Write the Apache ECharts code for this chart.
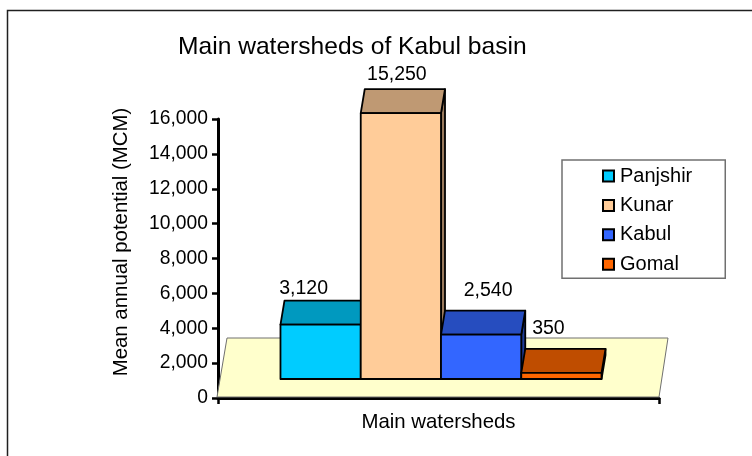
<!DOCTYPE html>
<html>
<head>
<meta charset="utf-8">
<style>
  html, body { margin: 0; padding: 0; background: #fff; }
  #chart { width: 752px; height: 456px; }
</style>
<script src="https://cdn.jsdelivr.net/npm/echarts@6/dist/echarts.min.js"></script>
</head>
<body>
<div id="chart"></div>
<script>
var categories = ["Main watersheds"];
var watersheds = ["Panjshir", "Kunar", "Kabul", "Gomal"];
var values = [3120, 15250, 2540, 350];
var yTicks = [0, 2000, 4000, 6000, 8000, 10000, 12000, 14000, 16000];

var frontColors = ["#00CCFF", "#FFCC99", "#3366FF", "#FF6600"];
var topColors = ["#0099BF", "#BF9973", "#264DBF", "#BF4D00"];
var sideColors = ["#007A99", "#99795C", "#1E3D99", "#993D00"];

// label shift from the middle of each bar, Excel placed these by hand
var labelShiftX = [-17, -4, 7, -13];
var labelShiftY = [-12, -14, -20, -20];

var fontName = '"Liberation Sans", Arial, sans-serif';

function fmt(v) {
  return v.toLocaleString("en-US");
}

function floorItem(params, api) {
  var base = api.coord([0, 0]);
  var w = api.size([1, 0])[0];
  var x0 = base[0] - w / 2 - 1;
  var x1 = base[0] + w / 2;
  var y = base[1] - 1;
  return {
    type: "polygon",
    shape: { points: [[x0, y], [x0 + 10, y - 59], [x1 + 9, y - 59], [x1, y]] },
    style: { fill: "#FFFFCC", stroke: "#707070", lineWidth: 1 },
    silent: true
  };
}

function barItem(idx) {
  return function (params, api) {
    var center = api.coord([0, 0])[0];
    var zero = api.coord([0, 0])[1];
    var top = api.coord([0, api.value(1)])[1];
    var band = api.size([1, 0])[0];
    var bw = band * 0.182;
    var left = center - 2 * bw + 2.5 + idx * bw;
    var right = left + bw;
    var yb = zero - 19;
    var yt = top - 19;
    var dx = 4;
    var dy = 24;
    var line = { stroke: "#000", lineWidth: 1.8, lineJoin: "round" };
    return {
      type: "group",
      children: [
        {
          type: "polygon",
          shape: { points: [[right, yb], [right + dx, yb - dy], [right + dx, yt - dy], [right, yt]] },
          style: Object.assign({ fill: sideColors[idx] }, line)
        },
        {
          type: "polygon",
          shape: { points: [[left, yt], [left + dx, yt - dy], [right + dx, yt - dy], [right, yt]] },
          style: Object.assign({ fill: topColors[idx] }, line)
        },
        {
          type: "rect",
          shape: { x: left, y: yt, width: bw, height: yb - yt },
          style: Object.assign({ fill: frontColors[idx] }, line)
        },
        {
          type: "text",
          x: left + bw / 2 + labelShiftX[idx],
          y: yt - dy + labelShiftY[idx],
          style: {
            text: fmt(api.value(1)),
            font: "19.5px " + fontName,
            fill: "#000",
            align: "center",
            verticalAlign: "middle"
          }
        }
      ]
    };
  };
}

var series = [{
  type: "custom",
  name: "floor",
  silent: true,
  renderItem: floorItem,
  data: [[0, 0]],
  encode: { x: 0, y: 1 },
  z: 1
}];
watersheds.forEach(function (name, i) {
  series.push({
    type: "custom",
    name: name,
    renderItem: barItem(i),
    itemStyle: { color: frontColors[i], borderColor: "#000", borderWidth: 1.5 },
    data: [[0, values[i]]],
    encode: { x: 0, y: 1 },
    clip: false,
    z: 2 + i
  });
});

var myChart = echarts.init(document.getElementById("chart"), null, { renderer: "canvas" });
myChart.setOption({
  animation: false,
  backgroundColor: "#fff",
  textStyle: { fontFamily: fontName, color: "#000" },
  title: {
    text: "Main watersheds of Kabul basin",
    left: 178,
    top: 35,
    padding: 0,
    textStyle: { fontSize: 24.6, fontWeight: "normal", color: "#000", fontFamily: fontName }
  },
  legend: {
    data: watersheds,
    orient: "vertical",
    left: 562,
    top: 160,
    padding: [6, 33, 4, 40],
    itemWidth: 11,
    itemHeight: 11,
    itemGap: 9.4,
    icon: "rect",
    borderColor: "#707070",
    borderWidth: 1.5,
    textStyle: { fontSize: 20, color: "#000", fontFamily: fontName, padding: [0, 0, 0, 1] }
  },
  grid: { left: 218, top: 119, width: 441, height: 279 },
  xAxis: {
    type: "category",
    data: categories,
    name: categories[0],
    nameLocation: "middle",
    nameGap: 14,
    nameTextStyle: { fontSize: 20.4, color: "#000" },
    axisLabel: { show: false },
    axisLine: { show: true, lineStyle: { color: "#000", width: 3 } },
    axisTick: { show: true, length: 6, lineStyle: { color: "#000", width: 2.5 } }
  },
  yAxis: {
    type: "value",
    min: yTicks[0],
    max: yTicks[yTicks.length - 1],
    interval: yTicks[1] - yTicks[0],
    axisLine: { show: true, lineStyle: { color: "#000", width: 3 } },
    axisTick: { show: true, length: 6, lineStyle: { color: "#000", width: 2.5 } },
    axisLabel: {
      fontSize: 19.3,
      color: "#000",
      margin: 10,
      formatter: function (v) { return fmt(v); }
    },
    splitLine: { show: false }
  },
  graphic: [
    {
      // outer frame, only the top and left edges show in the picture
      type: "polyline",
      silent: true,
      z: -10,
      shape: { points: [[7.5, 456], [7.5, 10.5], [752, 10.5]] },
      style: { fill: null, stroke: "#202020", lineWidth: 1.5 }
    },
    {
      // y axis title sits above the middle of the axis in the original
      type: "text",
      silent: true,
      x: 121,
      y: 242,
      rotation: Math.PI / 2,
      style: {
        text: "Mean annual potential (MCM)",
        font: "20.4px " + fontName,
        fill: "#000",
        align: "center",
        verticalAlign: "middle"
      }
    }
  ],
  series: series
});
window.addEventListener("resize", function () {
  myChart.resize();
});
</script>
</body>
</html>
